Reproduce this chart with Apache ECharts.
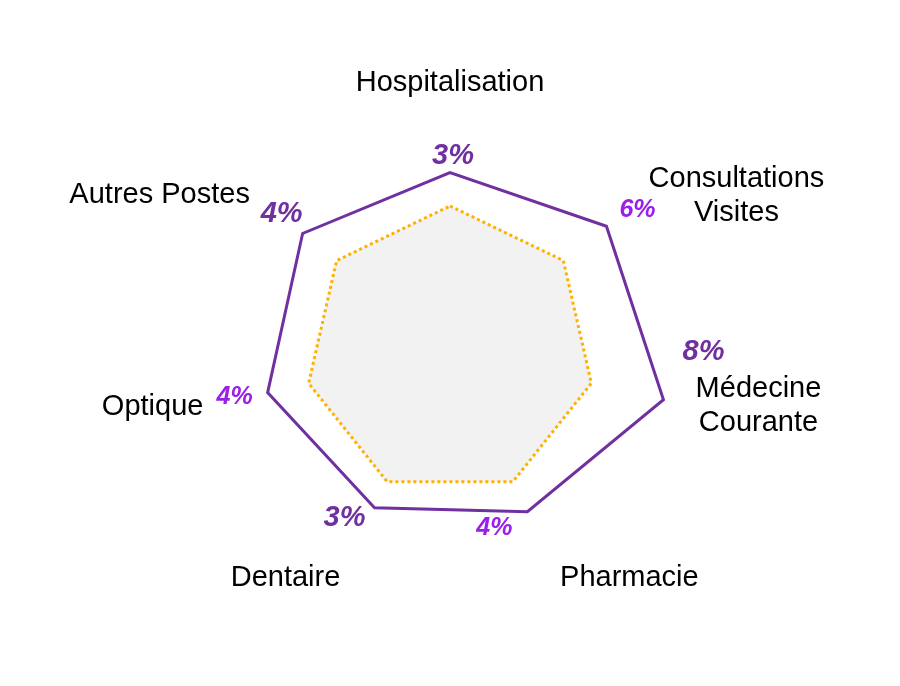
<!DOCTYPE html>
<html>
<head>
<meta charset="utf-8">
<script src="https://cdn.jsdelivr.net/npm/echarts@6/dist/echarts.min.js"></script>
<style>
  html, body { margin: 0; padding: 0; background: #ffffff; }
  #chart { width: 900px; height: 686px; }
</style>
</head>
<body>
<div id="chart"></div>
<script>
// ---- Data (clockwise from top) ----
const categories = ['Hospitalisation', 'Consultations\nVisites', 'Médecine\nCourante', 'Pharmacie', 'Dentaire', 'Optique', 'Autres Postes'];
const outerValues = [123, 138, 151, 123, 120, 129, 130];
const innerValues = [100, 100, 100, 100, 100, 100, 100];
const pctLabels = ['3%', '6%', '8%', '4%', '3%', '4%', '4%'];

// ---- Styles ----
const DARK = '#7030A0';
const BRIGHT = '#9A20E8';
const pctBig = [true, false, true, false, true, false, true];
const pctOffsets = [[3, -17], [31, -16], [40, -48], [-33, 16], [-30, 10], [-33, 4], [-21, -19]];
const nameOffsets = [[0, -90], [130, -30], [95, 6], [102, 66], [-89, 70], [-115, 14], [-143, -38]];
const FONT = '"Liberation Sans", Arial, sans-serif';

const N = categories.length;
// points as [radius, categoryIndex]; index N wraps back to the first axis
function closed(vals, extra) {
  const pts = vals.map((v, i) => [v, i]);
  for (let k = 0; k < extra; k++) pts.push([vals[k], N + k]);
  return pts;
}

const chart = echarts.init(document.getElementById('chart'), null, { renderer: 'canvas' });
chart.setOption({
  backgroundColor: '#ffffff',
  animation: false,
  polar: { center: [450, 351], radius: 232 },
  angleAxis: {
    type: 'value',
    min: 0,
    max: N,
    startAngle: 90,
    clockwise: true,
    axisLine: { show: false },
    axisTick: { show: false },
    axisLabel: { show: false },
    splitLine: { show: false }
  },
  radiusAxis: {
    type: 'value',
    min: 0,
    max: 160,
    axisLine: { show: false },
    axisTick: { show: false },
    axisLabel: { show: false },
    splitLine: { show: false }
  },
  series: [
    {
      type: 'line',
      coordinateSystem: 'polar',
      data: closed(innerValues, 1),
      symbol: 'none',
      silent: true,
      clip: false,
      z: 1,
      lineStyle: { color: '#FFB000', width: 3, type: 'dotted', cap: 'butt' },
      areaStyle: { color: '#F2F2F2', opacity: 1 }
    },
    {
      type: 'line',
      coordinateSystem: 'polar',
      data: closed(outerValues, 2),
      symbol: 'none',
      silent: true,
      clip: false,
      z: 2,
      lineStyle: { color: DARK, width: 3, join: 'miter' }
    },
    {
      type: 'scatter',
      coordinateSystem: 'polar',
      symbolSize: 0,
      silent: true,
      clip: false,
      z: 3,
      itemStyle: { opacity: 1 },
      data: outerValues.map((v, i) => ({
        value: [v, i],
        label: {
          show: true,
          position: 'inside',
          align: 'center',
          verticalAlign: 'middle',
          offset: pctOffsets[i],
          formatter: pctLabels[i],
          color: pctBig[i] ? DARK : BRIGHT,
          opacity: 1,
          fontSize: pctBig[i] ? 29 : 25,
          fontWeight: 'bold',
          fontStyle: 'italic',
          fontFamily: FONT
        }
      }))
    },
    {
      type: 'scatter',
      coordinateSystem: 'polar',
      symbolSize: 0,
      silent: true,
      clip: false,
      z: 3,
      itemStyle: { opacity: 1 },
      data: outerValues.map((v, i) => ({
        value: [v, i],
        label: {
          show: true,
          position: 'inside',
          align: 'center',
          verticalAlign: 'middle',
          offset: nameOffsets[i],
          formatter: categories[i],
          color: '#000000',
          opacity: 1,
          fontSize: 29,
          lineHeight: 34,
          fontFamily: FONT
        }
      }))
    }
  ]
});
</script>
</body>
</html>
